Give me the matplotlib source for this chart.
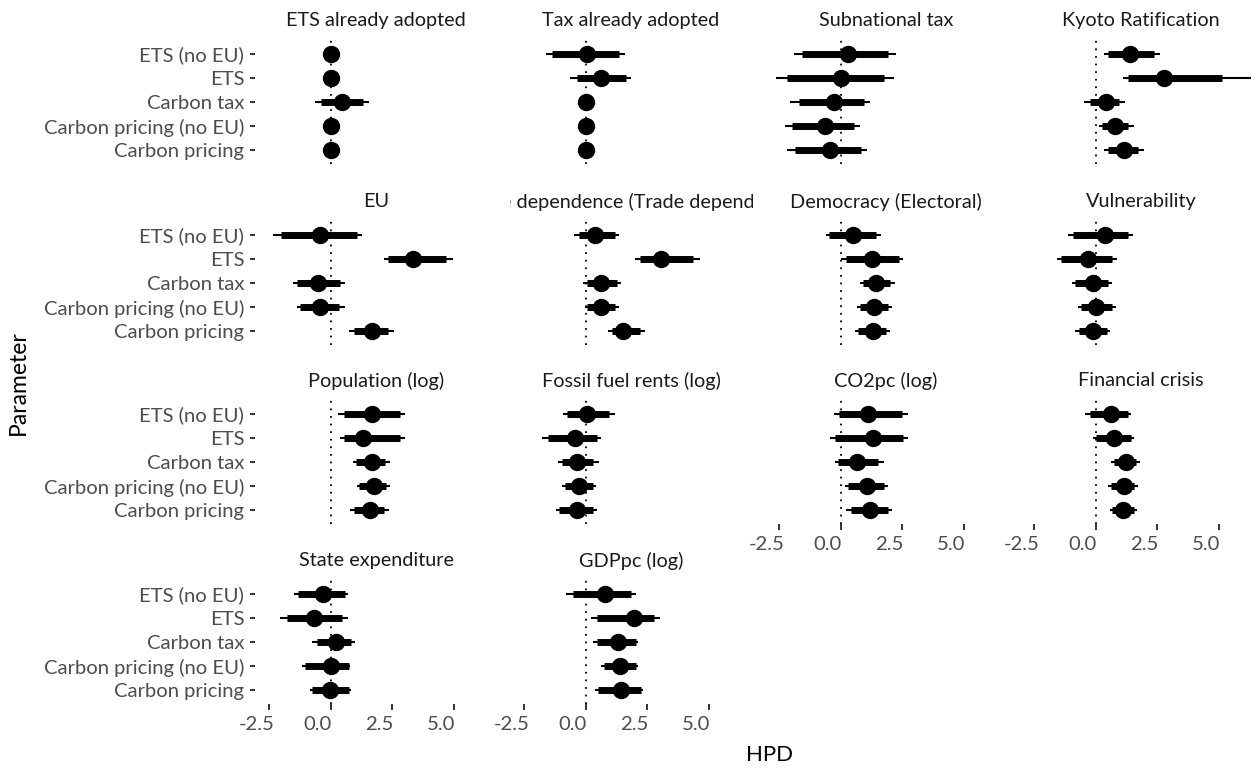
import matplotlib
matplotlib.use("Agg")
import matplotlib.pyplot as plt
import matplotlib.transforms as mtransforms

plt.rcParams["font.family"] = ["Lato", "DejaVu Sans"]

# parameters (top to bottom in every panel)
params = ["ETS (no EU)", "ETS", "Carbon tax", "Carbon pricing (no EU)", "Carbon pricing"]

panels = [
    "ETS already adopted", "Tax already adopted", "Subnational tax", "Kyoto Ratification",
    "EU", "Trade dependence (Trade dependence)", "Democracy (Electoral)", "Vulnerability",
    "Population (log)", "Fossil fuel rents (log)", "CO2pc (log)", "Financial crisis",
    "State expenditure", "GDPpc (log)",
]

# posterior medians, one row per panel, columns follow `params`
median = [
    [0.00, 0.00, 0.44, 0.00, 0.00],
    [0.07, 0.64, 0.00, 0.00, 0.00],
    [0.28, 0.00, -0.26, -0.63, -0.43],
    [1.40, 2.77, 0.41, 0.77, 1.15],
    [-0.43, 3.33, -0.51, -0.43, 1.66],
    [0.36, 3.05, 0.61, 0.64, 1.50],
    [0.48, 1.27, 1.44, 1.36, 1.30],
    [0.38, -0.30, -0.13, 0.03, -0.13],
    [1.66, 1.30, 1.66, 1.74, 1.58],
    [0.07, -0.42, -0.34, -0.29, -0.37],
    [1.11, 1.30, 0.66, 1.08, 1.19],
    [0.61, 0.74, 1.24, 1.15, 1.12],
    [-0.32, -0.66, 0.22, 0.03, -0.04],
    [0.77, 1.95, 1.33, 1.39, 1.43],
]

# inner HPD interval (thick bar)
inner_lo = [
    [-0.05, -0.05, -0.38, -0.05, -0.05],
    [-1.37, -0.35, -0.05, -0.05, -0.05],
    [-1.59, -2.20, -1.70, -1.98, -1.87],
    [0.49, 1.32, -0.25, 0.24, 0.49],
    [-2.01, 2.32, -1.36, -1.23, 0.93],
    [-0.29, 2.22, 0.04, 0.07, 1.07],
    [-0.46, 0.20, 0.89, 0.78, 0.70],
    [-0.91, -1.41, -0.83, -0.58, -0.67],
    [0.52, 0.52, 1.01, 1.17, 0.93],
    [-0.78, -1.52, -0.98, -0.86, -1.07],
    [-0.05, -0.22, -0.10, 0.28, 0.40],
    [-0.25, 0.00, 0.74, 0.61, 0.66],
    [-1.35, -1.78, -0.57, -1.03, -0.75],
    [-0.52, 0.46, 0.46, 0.74, 0.51],
]
inner_hi = [
    [0.05, 0.05, 1.30, 0.05, 0.05],
    [1.34, 1.64, 0.05, 0.05, 0.05],
    [1.93, 1.77, 0.94, 0.53, 0.81],
    [2.36, 5.12, 0.96, 1.32, 1.73],
    [1.06, 4.69, 0.36, 0.33, 2.32],
    [1.18, 4.37, 1.26, 1.18, 2.22],
    [1.44, 2.35, 2.02, 1.93, 1.85],
    [1.32, 0.66, 0.49, 0.66, 0.46],
    [2.81, 2.81, 2.20, 2.24, 2.15],
    [0.93, 0.44, 0.28, 0.28, 0.28],
    [2.51, 2.54, 1.52, 1.77, 1.93],
    [1.32, 1.45, 1.65, 1.57, 1.57],
    [0.59, 0.46, 0.83, 0.74, 0.74],
    [1.85, 2.79, 2.04, 2.04, 2.23],
]

# outer HPD interval (thin line)
outer_lo = [
    [-0.10, -0.10, -0.62, -0.10, -0.10],
    [-1.61, -0.62, -0.10, -0.10, -0.10],
    [-1.91, -2.64, -2.07, -2.28, -2.20],
    [0.33, 1.10, -0.47, 0.13, 0.33],
    [-2.34, 2.15, -1.55, -1.36, 0.76],
    [-0.46, 2.02, -0.13, -0.04, 0.90],
    [-0.59, 0.00, 0.78, 0.66, 0.58],
    [-1.11, -1.57, -0.96, -0.70, -0.83],
    [0.31, 0.36, 0.89, 1.06, 0.80],
    [-0.94, -1.76, -1.11, -0.98, -1.19],
    [-0.26, -0.43, -0.22, 0.17, 0.23],
    [-0.45, -0.13, 0.61, 0.49, 0.57],
    [-1.50, -2.06, -0.75, -1.16, -0.85],
    [-0.81, 0.21, 0.30, 0.61, 0.36],
]
outer_hi = [
    [0.10, 0.10, 1.55, 0.10, 0.10],
    [1.59, 1.84, 0.10, 0.10, 0.10],
    [2.23, 2.15, 1.19, 0.78, 1.06],
    [2.61, 6.31, 1.20, 1.57, 1.98],
    [1.29, 4.98, 0.60, 0.57, 2.56],
    [1.34, 4.65, 1.42, 1.34, 2.42],
    [1.64, 2.54, 2.22, 2.10, 2.02],
    [1.52, 0.85, 0.66, 0.82, 0.57],
    [3.02, 3.02, 2.40, 2.40, 2.37],
    [1.21, 0.64, 0.52, 0.41, 0.44],
    [2.73, 2.73, 1.74, 1.93, 2.07],
    [1.45, 1.57, 1.78, 1.70, 1.68],
    [0.69, 0.69, 0.98, 0.78, 0.83],
    [2.04, 3.01, 2.13, 2.13, 2.32],
]

x_ticks = [-2.5, 0.0, 2.5, 5.0]
x_limits = (-3.09, 6.78)

# layout in pixels (ggplot facet_wrap, 4 columns)
W, H, DPI = 1257, 769, 100
col_left = [254.7, 509.7, 764.7, 1019.7]
row_top = [39.6, 220.6, 399.6, 579.6]
panel_w, panel_h = 242.8, 124.8
n_panels = len(panels)
n_cols = 4
last_row_in_col = {c: max(i // n_cols for i in range(n_panels) if i % n_cols == c) for c in range(n_cols)}

TICK_GREY = "#4D4D4D"
STRIP_TXT = "#1A1A1A"
TICK_SIZE = 14.6
STRIP_SIZE = 14.3


def px_box(left, top, width, height):
    return [left / W, 1 - (top + height) / H, width / W, height / H]


fig = plt.figure(figsize=(W / DPI, H / DPI), dpi=DPI)
ys = list(range(len(params)))[::-1]
label_shift = mtransforms.ScaledTranslation(-13 / DPI, 0, fig.dpi_scale_trans)

for i, name in enumerate(panels):
    r, c = divmod(i, n_cols)
    ax = fig.add_axes(px_box(col_left[c], row_top[r], panel_w, panel_h))

    ax.axvline(0, color="black", lw=1.3, ls=(0, (1, 3.2)), zorder=1)
    ax.hlines(ys, outer_lo[i], outer_hi[i], color="black", lw=1.5, capstyle="butt", zorder=2)
    ax.hlines(ys, inner_lo[i], inner_hi[i], color="black", lw=5, capstyle="butt", zorder=3)
    ax.plot(median[i], ys, "o", color="black", ms=11.5, zorder=4)

    ax.set_xlim(*x_limits)
    ax.set_ylim(-0.6, len(params) - 0.4)
    for s in ax.spines.values():
        s.set_visible(False)

    if c == 0:
        ax.set_yticks(ys, params)
        ax.tick_params(axis="y", length=3.5, width=1.4, color="#333333",
                       labelsize=TICK_SIZE, labelcolor=TICK_GREY, pad=4)
    else:
        ax.set_yticks([])

    if r == last_row_in_col[c]:
        ax.set_xticks(x_ticks, [f"{t:.1f}" for t in x_ticks])
        ax.tick_params(axis="x", length=4.2, width=1.4, color="#333333",
                       labelsize=TICK_SIZE, labelcolor=TICK_GREY, pad=4)
        for lab in ax.get_xticklabels():
            lab.set_transform(lab.get_transform() + label_shift)
    else:
        ax.set_xticks([])

    # facet strip, text clipped to the panel width
    sax = fig.add_axes(px_box(col_left[c], row_top[r] - 40, panel_w, 40))
    sax.set_axis_off()
    sax.text(0.5, 0.47, name, ha="center", va="center", fontsize=STRIP_SIZE,
             color=STRIP_TXT, transform=sax.transAxes, clip_on=True)

fig.text(18 / W, 1 - 383 / H, "Parameter", rotation=90, ha="center", va="center",
         fontsize=16.5, color="black")
fig.text(770 / W, 1 - 755 / H, "HPD", ha="center", va="center", fontsize=16, color="black")

fig.savefig("out.png", dpi=DPI, facecolor="white")
